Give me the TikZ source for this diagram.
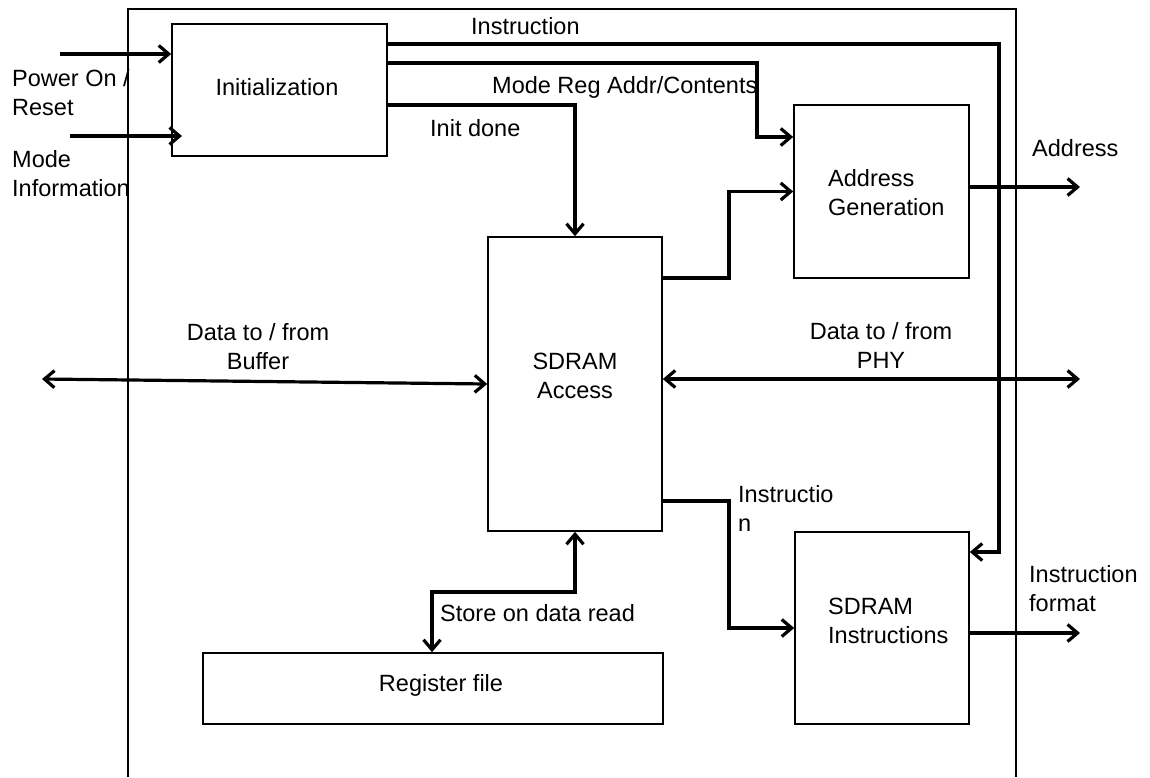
\documentclass[tikz,border=0pt]{standalone}
\usepackage{fontspec}
\setmainfont{Liberation Sans}
\usetikzlibrary{arrows.meta}
\begin{document}
\begin{tikzpicture}[x=1pt,y=-1pt,
  >={Straight Barb[length=10pt,width=17pt,line width=3.2pt]},
  txt/.style={inner sep=0pt, font=\fontsize{23.5pt}{29pt}\selectfont},
  blk/.style={draw, line width=1.6pt, inner sep=0pt},
  arr/.style={line width=3.2pt, ->},
  arrb/.style={line width=3.2pt, <->}]
\useasboundingbox (0,0) rectangle (1150,777);

% enclosing frame (open at the bottom)
\draw[line width=1.4pt] (128,777) -- (128,9) -- (1016,9) -- (1016,777);

% blocks
\node[blk, minimum width=215pt, minimum height=132pt] (init) at (279.5,90) {};
\node[blk, minimum width=174pt, minimum height=294pt] (access) at (575,384) {};
\node[blk, minimum width=175pt, minimum height=173pt] (addr) at (881.5,191.5) {};
\node[blk, minimum width=174pt, minimum height=192pt] (instr) at (882,628) {};
\node[blk, minimum width=460pt, minimum height=71pt] (reg) at (433,688.5) {};

% block texts
\node[txt] (tinit) at (277,87) {Initialization};
\node[txt, align=center] (taccess) at (575,376) {SDRAM\\Access};
\node[txt, align=left, anchor=west] (taddr) at (828,192.5) {Address\\Generation};
\node[txt, align=left, anchor=west] (tinstr) at (828,621) {SDRAM\\Instructions};
\node[txt] (treg) at (441,685) {Register file};

% bend points and free ends
\coordinate (pin1) at (60,54);
\coordinate (pin2) at (70,136);
\coordinate (pin2e) at (182,136);
\coordinate (bus) at (999,44);
\coordinate (mreg) at (757,63);
\coordinate (idone) at (575,105);
\coordinate (agup) at (729,278);
\coordinate (sidn) at (729,501);
\coordinate (store) at (432,592);
\coordinate (aout) at (1080,187);
\coordinate (iout) at (1080,633);
\coordinate (dbuf) at (42,379);
\coordinate (dphy) at (1080,379);

% connectors
\draw[arr] (pin1) -- (pin1 -| init.west);
\draw[arr] (pin2) -- (pin2e);
\draw[arr] (init.east |- bus) -- (bus) |- ([yshift=76pt]instr.east);
\draw[arr] (init.east |- mreg) -- (mreg) |- ([yshift=54.5pt]addr.west);
\draw[arr] (init.east |- idone) -| (access.north);
\draw[arr] (access.east |- agup) -- (agup) |- (addr.west);
\draw[arr] (access.east |- sidn) -- (sidn) |- (instr.west);
\draw[arrb] (access.south) |- (store) -- (store |- reg.north);
\draw[arr] (addr.east |- aout) -- (aout);
\draw[arr] (instr.east |- iout) -- (iout);
\draw[arrb] (dbuf) -- (access.west);
\draw[arrb] (access.east |- dphy) -- (dphy);

% connector labels
\node[txt, align=left, anchor=west] (lpow) at (12,93) {Power On /\\Reset};
\node[txt, align=left, anchor=west] (lmode) at (12,174) {Mode\\Information};
\node[txt, anchor=west] (linstr) at (471,26) {Instruction};
\node[txt, anchor=west] (lmreg) at (492,87) {Mode Reg Addr/Contents};
\node[txt, anchor=west] (lidone) at (430,128) {Init done};
\node[txt, anchor=west] (laddr) at (1032,148) {Address};
\node[txt, align=left, anchor=west] (lfmt) at (1029,589) {Instruction\\format};
\node[txt, align=center] (lbuf) at (258,347) {Data to / from\\Buffer};
\node[txt, align=center] (lphy) at (881,345) {Data to / from\\PHY};
\node[txt, align=left, anchor=west] (lsi) at (738,508) {Instructio\\n};
\node[txt, anchor=west] (lstore) at (440,613) {Store on data read};
\end{tikzpicture}
\end{document}
